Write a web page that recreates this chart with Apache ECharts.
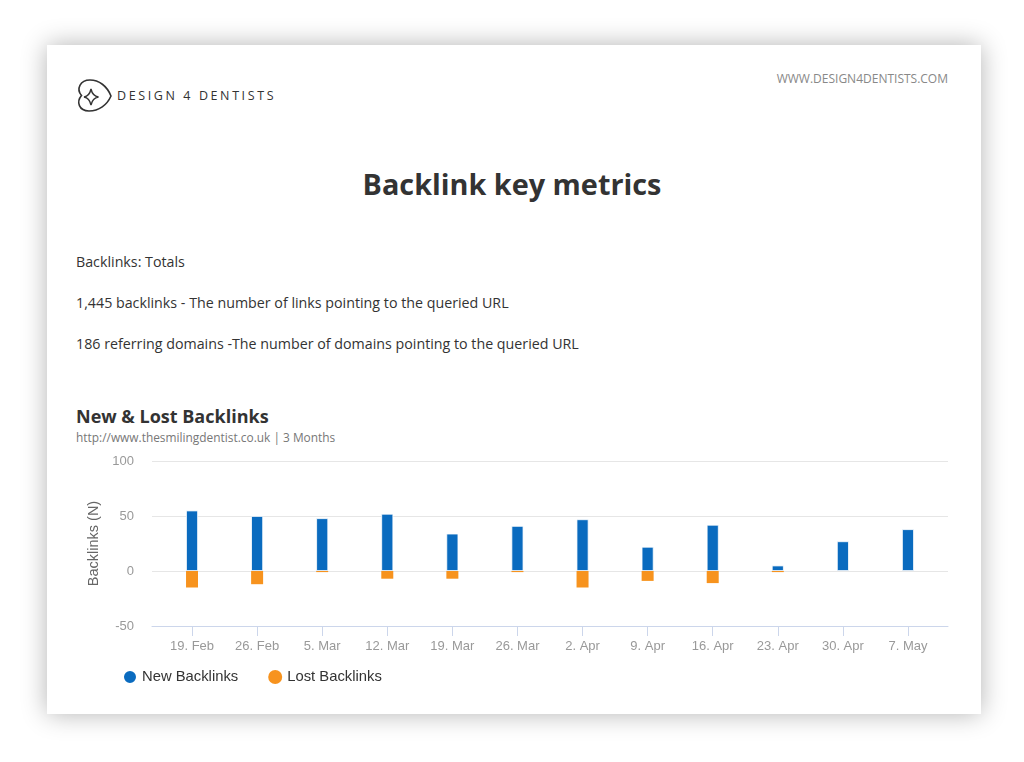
<!DOCTYPE html>
<html>
<head>
<meta charset="utf-8">
<script src="https://cdn.jsdelivr.net/npm/echarts@6/dist/echarts.min.js"></script>
<style>
html,body{margin:0;padding:0;background:#fff;width:1024px;height:762px;overflow:hidden;}
#card{position:absolute;left:47px;top:45px;width:934px;height:669px;background:#fff;box-shadow:0 0 24px rgba(0,0,0,0.3);}
.t{position:absolute;white-space:nowrap;font-family:"Open Sans",sans-serif;color:#333;}
#chart{position:absolute;left:0;top:0;width:1024px;height:762px;}
</style>
</head>
<body>
<div id="card"></div>
<svg style="position:absolute;left:0;top:0" width="130" height="130">
  <path d="M111 96 C107 86 99 80 90 80 C80 80 76 89 81.5 95.5 C76 102 79 111 89 111 C99 111 107 105 111 96 Z" fill="none" stroke="#333" stroke-width="1.6"/>
  <path d="M91 89 Q92.5 96 98.5 97 Q92.5 98 91 105 Q89.5 98 84 97 Q89.5 96 91 89 Z" fill="none" stroke="#333" stroke-width="1.4"/>
</svg>
<div class="t" style="left:117px;top:88px;font-size:12.5px;line-height:16px;letter-spacing:2.6px;color:#333;">DESIGN 4 DENTISTS</div>
<div class="t" style="right:76px;top:71px;font-size:12px;line-height:16px;color:#888;">WWW.DESIGN4DENTISTS.COM</div>
<div class="t" style="left:0;width:1024px;text-align:center;top:165px;font-size:28.8px;line-height:38px;font-weight:bold;">Backlink key metrics</div>
<div class="t" style="left:76px;top:252px;font-size:14.25px;line-height:20px;">Backlinks: Totals</div>
<div class="t" style="left:76px;top:293px;font-size:14.25px;line-height:20px;">1,445 backlinks - The number of links pointing to the queried URL</div>
<div class="t" style="left:76px;top:334px;font-size:14.25px;line-height:20px;">186 referring domains -The number of domains pointing to the queried URL</div>
<div class="t" style="left:76px;top:403px;font-size:18px;line-height:26px;font-weight:bold;">New &amp; Lost Backlinks</div>
<div class="t" style="left:76px;top:429px;font-size:11.9px;line-height:16px;color:#777;">http://www.thesmilingdentist.co.uk | 3 Months</div>
<div id="chart"></div>
<script>
const categories = ["19. Feb","26. Feb","5. Mar","12. Mar","19. Mar","26. Mar","2. Apr","9. Apr","16. Apr","23. Apr","30. Apr","7. May"];
const newBacklinks = [55, 50, 48, 52, 34, 41, 47, 22, 42, 5, 27, 38];
const lostBacklinks = [-15, -12, -1, -7, -7, -1, -15, -9, -11, -1, 0, 0];
const yTicks = [-50, 0, 50, 100];

const idx = categories.map((c, i) => i);
const chart = echarts.init(document.getElementById('chart'), null, {renderer:'canvas'});
const axisFont = '"Liberation Sans", Arial, sans-serif';
chart.setOption({
  animation:false,
  backgroundColor:'transparent',
  grid:{left:152, right:76, top:461, bottom:136},
  legend:{
    left:117, top:664, icon:'circle', itemWidth:14, itemHeight:14, itemGap:30,
    textStyle:{fontFamily:axisFont, fontSize:14.8, color:'#333'},
    data:['New Backlinks','Lost Backlinks']
  },
  xAxis:{
    type:'value', min:-0.615, max:idx.length - 1 + 0.615,
    splitLine:{show:false},
    axisLine:{show:true, onZero:false, lineStyle:{color:'#ccd6eb', width:1}},
    axisTick:{show:true, length:10, customValues:idx, lineStyle:{color:'#ccd6eb'}},
    axisLabel:{customValues:idx, formatter:v => categories[Math.round(v)], color:'#999', fontSize:13, fontFamily:axisFont, margin:14}
  },
  yAxis:{
    type:'value', min:yTicks[0], max:yTicks[yTicks.length-1], interval:50,
    name:'Backlinks (N)', nameLocation:'middle', nameGap:40, nameRotate:90,
    nameTextStyle:{color:'#666', fontSize:14.5, fontFamily:axisFont},
    axisLine:{show:false}, axisTick:{show:false},
    axisLabel:{color:'#999', fontSize:13, fontFamily:axisFont, margin:18},
    splitLine:{lineStyle:{color:'#e6e6e6', width:1}}
  },
  series:[
    {name:'New Backlinks', type:'bar', barWidth:12, barGap:'-100%',
     itemStyle:{color:'#0a6bbf', borderColor:'#fff', borderWidth:0.8},
     data:newBacklinks.map((v,i)=>[i,v])},
    {name:'Lost Backlinks', type:'bar', barWidth:12, barGap:'-100%',
     itemStyle:{color:'#f7931e', borderWidth:0},
     data:lostBacklinks.map((v,i)=>[i,v])}
  ]
});
</script>
</body>
</html>
